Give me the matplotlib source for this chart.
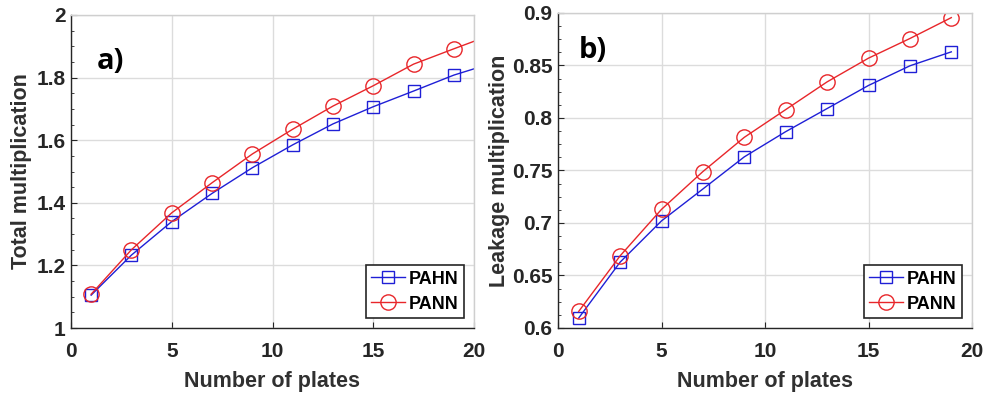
import matplotlib
matplotlib.use("Agg")
import matplotlib.pyplot as plt
from matplotlib.ticker import MultipleLocator, FuncFormatter

plt.rcParams['font.family'] = ['Liberation Sans', 'DejaVu Sans']

plates = [1, 3, 5, 7, 9, 11, 13, 15, 17, 19, 21]
total_pahn = [1.105, 1.233, 1.340, 1.430, 1.512, 1.585, 1.652, 1.707, 1.757, 1.808, 1.848]
total_pann = [1.108, 1.250, 1.368, 1.464, 1.556, 1.635, 1.709, 1.774, 1.843, 1.892, 1.940]

plates_b = [1, 3, 5, 7, 9, 11, 13, 15, 17, 19]
leak_pahn = [0.6095, 0.6627, 0.702, 0.7324, 0.763, 0.787, 0.809, 0.831, 0.8497, 0.863]
leak_pann = [0.6158, 0.6687, 0.713, 0.749, 0.7816, 0.808, 0.8344, 0.857, 0.8757, 0.8956]

series_names = ['PAHN', 'PANN']
W, H = 984, 394
fig = plt.figure(figsize=(W / 100, H / 100), dpi=100)

def px_axes(x0, y0, x1, y1):
    return fig.add_axes([x0 / W, 1 - y1 / H, (x1 - x0) / W, (y1 - y0) / H])

ax1 = px_axes(71, 15, 474, 328)
ax2 = px_axes(558, 13, 972, 328)

def style(ax, ylim, major, minor, ylabel, panel, tx, ty, fmt, ylabelpad):
    ax.set_xlim(0, 20)
    ax.set_ylim(*ylim)
    ax.xaxis.set_major_locator(MultipleLocator(5))
    ax.yaxis.set_major_locator(MultipleLocator(major))
    ax.yaxis.set_minor_locator(MultipleLocator(minor))
    ax.yaxis.set_major_formatter(FuncFormatter(fmt))
    ax.grid(True, which='major', color='#dcdcdc', linewidth=1.0)
    ax.set_axisbelow(True)
    ax.tick_params(which='both', direction='in', top=False, right=False)
    ax.tick_params(which='major', length=4, labelsize=15, colors='#262626')
    ax.tick_params(axis='x', which='major', pad=10)
    ax.tick_params(axis='y', which='major', pad=4)
    ax.tick_params(which='minor', length=2.5, colors='#262626')
    for lbl in ax.get_xticklabels() + ax.get_yticklabels():
        lbl.set_fontweight('bold')
    for s in ['left', 'bottom']:
        ax.spines[s].set_color('#262626')
        ax.spines[s].set_linewidth(1.0)
    for s in ['top', 'right']:
        ax.spines[s].set_color('#cfcfcf')
        ax.spines[s].set_linewidth(1.0)
    ax.set_xlabel('Number of plates', fontsize=15.5, fontweight='bold', color='#303030', labelpad=7)
    ax.set_ylabel(ylabel, fontsize=15.5, fontweight='bold', color='#303030', labelpad=ylabelpad)
    ax.text(tx, ty, panel, fontsize=21, fontweight='bold', family=['Open Sans', 'DejaVu Sans'],
            va='center', ha='left', color='black')
    leg = ax.legend(loc='lower right', fancybox=False, framealpha=1, edgecolor='#262626',
                    prop={'weight': 'bold', 'size': 13}, handlelength=1.9,
                    borderpad=0.3, labelspacing=0.45, handletextpad=0.2, borderaxespad=0.55)
    leg.get_frame().set_linewidth(1.2)

def fmt_a(v, p):
    return ('%.1f' % v).rstrip('0').rstrip('.')

def fmt_b(v, p):
    return ('%.2f' % v).rstrip('0').rstrip('.')

ax1.plot(plates, total_pahn, color='#1f1fd6', marker='s', markersize=8, markerfacecolor='none',
         linewidth=1.0, label=series_names[0])
ax1.plot(plates, total_pann, color='#e8262a', marker='o', markersize=11, markerfacecolor='none',
         linewidth=1.0, label=series_names[1])
style(ax1, (1, 2), 0.2, 0.05, 'Total multiplication', 'a)', 1.3, 1.85, fmt_a, 3)

ax2.plot(plates_b, leak_pahn, color='#1f1fd6', marker='s', markersize=8, markerfacecolor='none',
         linewidth=1.0, label=series_names[0])
ax2.plot(plates_b, leak_pann, color='#e8262a', marker='o', markersize=11, markerfacecolor='none',
         linewidth=1.0, label=series_names[1])
style(ax2, (0.6, 0.9), 0.05, 0.0125, 'Leakage multiplication', 'b)', 1.0, 0.8645, fmt_b, 1)

fig.savefig('out.png', dpi=100)
